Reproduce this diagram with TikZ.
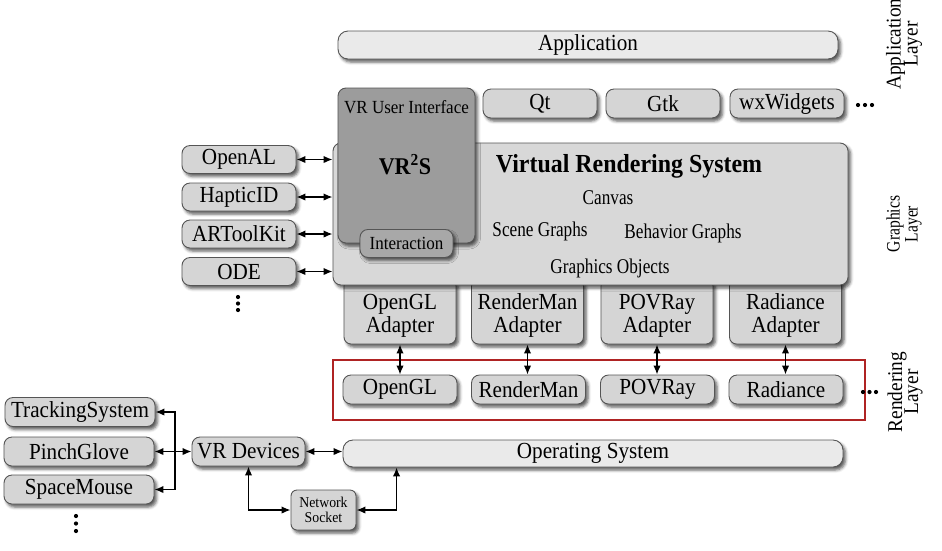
\documentclass[tikz,border=0pt]{standalone}
\usepackage{fontspec}
\setmainfont{Liberation Serif}[FakeStretch=0.92]
\newfontfamily\condfont{Liberation Serif}[FakeStretch=0.82]
\usetikzlibrary{positioning,shapes,arrows,arrows.meta,shadows.blur}
\definecolor{boxgray}{RGB}{213,213,213}
\definecolor{lightbox}{RGB}{234,234,234}
\definecolor{vrsgray}{RGB}{216,216,216}
\definecolor{darkbox}{RGB}{156,156,156}
\definecolor{interbox}{RGB}{168,168,168}
\definecolor{boxline}{RGB}{85,85,85}
\definecolor{framered}{RGB}{175,35,35}
\newcommand\tightlines{\lineskiplimit-20pt\relax}
\newcommand\adtop{\rule{0pt}{24pt}}
\tikzset{
	boxshadow/.style={
		blur shadow={shadow xshift=2.5pt, shadow yshift=-3pt,
		shadow blur radius=3pt, shadow opacity=65}
	},
	vrslabel/.style={font=\condfont\fontsize{21}{21}\selectfont},
	layerlabel/.style={rotate=90, align=center},
	dot/.style={fill=black},
}

\begin{document}
\begin{tikzpicture}
[x=1pt, y=-1pt,
block/.style ={rectangle, draw=boxline, fill=boxgray, line width=0.9pt,
rounded corners=8pt, inner sep=1pt, minimum width=114pt, minimum height=29pt,
font=\fontsize{23}{23}\selectfont, boxshadow},
pill/.style ={block, fill=lightbox, rounded corners=10pt,
minimum width=500pt, minimum height=28pt},
adapter/.style ={block, align=center, rounded corners=7pt,
minimum width=112pt, minimum height=65pt},
line/.style ={draw, line width=1.5pt,
{Latex[length=9pt,width=7.5pt]}-{Latex[length=9pt,width=7.5pt]}}]
\useasboundingbox (0,0) rectangle (942,550);

% application layer
\node [pill] (app) at (588,45) {Application};
\node [block] (qt) at (540,103.5) {Qt};
\node [block] (gtk) at (663,103.5) {Gtk};
\node [block] (wx) at (787,103.5) {wxWidgets};
\foreach \x in {858,865,872} \fill[dot] (\x,105) circle (2.1pt);

% adapters sit under the VRS box
\node [adapter] (adgl) at (400,311.5) {\adtop OpenGL\\Adapter};
\node [adapter] (adrm) at (527.5,311.5) {\adtop RenderMan\\Adapter};
\node [adapter] (adpov) at (657,311.5) {\adtop POVRay\\Adapter};
\node [adapter] (adrad) at (785.5,311.5) {\adtop Radiance\\Adapter};

% graphics layer
\node [block, fill=vrsgray, minimum width=515pt, minimum height=142pt] (vrs) at (590.5,214) {};
\node [font=\fontsize{26}{26}\selectfont\bfseries] (vrstitle) at (629,166) {Virtual Rendering System};
\node [vrslabel] (canvas) at (608,198) {Canvas};
\node [vrslabel] (scene) at (540,231) {Scene Graphs};
\node [vrslabel] (behav) at (683,233) {Behavior Graphs};
\node [vrslabel] (gobj) at (610,268) {Graphics Objects};

\node [block, fill=darkbox, minimum width=137pt, minimum height=155pt] (vrui) at (406.5,165.5) {};
\node [font=\fontsize{18.5}{18.5}\selectfont] (vruititle) at ([yshift=-20pt]vrui.north) {VR User Interface};
\node [font=\fontsize{24}{24}\selectfont\bfseries] (vr2s) at (405,165) {VR\textsuperscript{2}S};
\node [block, fill=interbox, minimum width=93pt, minimum height=28pt,
font=\fontsize{18.5}{18.5}\selectfont] (inter) at (vrui.south) {Interaction};

% libraries on the left
\node [block, minimum height=28pt] (openal) at (239,159.5) {OpenAL};
\node [block, minimum height=28pt] (haptic) at (239,197) {HapticID};
\node [block, minimum height=28pt] (artk) at (239,234) {ARToolKit};
\node [block, minimum height=28pt] (ode) at (239,271.5) {ODE};
\foreach \y in {297,303.5,310} \fill[dot] (238,\y) circle (2.1pt);
\draw[line] (openal.east) -- (openal.east -| vrs.west);
\draw[line] (haptic.east) -- (haptic.east -| vrs.west);
\draw[line] (artk.east) -- (artk.east -| vrs.west);
\draw[line] (ode.east) -- (ode.east -| vrs.west);

% rendering layer
\node [draw=framered, line width=1.6pt, inner sep=0pt,
minimum width=532pt, minimum height=60pt] (rlayer) at (599,390) {};
\node [block] (rgl) at (400,389.5) {OpenGL};
\node [block] (rrm) at (528.5,389.5) {RenderMan};
\node [block] (rpov) at (657.5,389.5) {POVRay};
\node [block] (rrad) at (786,389.5) {Radiance};
\foreach \x in {863,869.5,876} \fill[dot] (\x,392) circle (2.1pt);
\draw[line] (adgl.south) -- (adgl.south |- rgl.north);
\draw[line] (adrm.south) -- (adrm.south |- rrm.north);
\draw[line] (adpov.south) -- (adpov.south |- rpov.north);
\draw[line] (adrad.south) -- (adrad.south |- rrad.north);

% operating system and devices
\node [pill, minimum height=27pt] (os) at (593,453.5) {Operating System};
\node [block, minimum width=113pt] (vrdev) at (248.5,451.5) {VR Devices};
\node [block, minimum width=150pt] (track) at (80,412) {TrackingSystem};
\node [block, minimum width=150pt] (pinch) at (79,451.5) {PinchGlove};
\node [block, minimum width=150pt] (space) at (79,489.5) {SpaceMouse};
\foreach \y in {516,523.5,531} \fill[dot] (76,\y) circle (2.1pt);
\node [block, align=center, minimum width=65pt, minimum height=40pt, rounded corners=6pt,
font=\fontsize{15}{15}\selectfont] (sock) at (323.5,510) {Network\\Socket};
\coordinate (hub) at (175,451.5);
\draw[line] (pinch.east) -- (vrdev.west);
\draw[line, {Latex[length=9pt,width=7.5pt]}-] (track.east) -| (hub);
\draw[line, {Latex[length=9pt,width=7.5pt]}-] (space.east) -| (hub);
\draw[line] (vrdev.east) -- (vrdev.east -| os.west);
\draw[line] (vrdev.south) |- (sock.west);
\draw[line] (sock.east) -| ([xshift=54pt]os.south west);

% layer names
\node [layerlabel, font=\fontsize{21}{17}\selectfont\tightlines] (applayer) at (904,44) {Application\\Layer};
\node [layerlabel, font=\condfont\fontsize{19}{18}\selectfont\tightlines] (gfxlayer) at (904,224) {Graphics\\Layer};
\node [layerlabel, font=\fontsize{21}{16}\selectfont\tightlines] (renlayer) at (905,392) {Rendering\\Layer};
\end{tikzpicture}
\end{document}
